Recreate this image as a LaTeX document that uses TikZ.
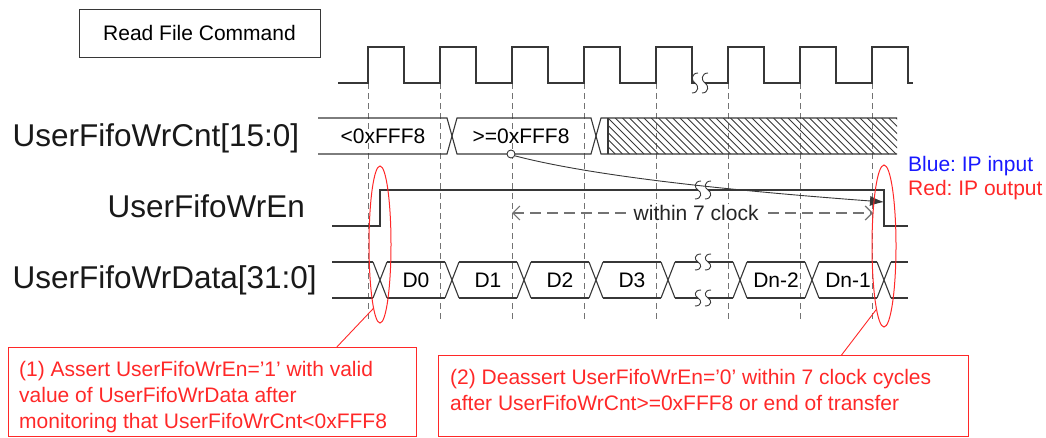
\documentclass[tikz,border=0pt]{standalone}
\usepackage{fontspec}
\setmainfont{Liberation Sans}
\usetikzlibrary{arrows.meta,shapes.geometric,positioning,calc}

\definecolor{ipred}{RGB}{255,40,40}
\definecolor{ipblue}{RGB}{25,25,255}
\definecolor{wire}{RGB}{55,55,55}

\newcommand{\sigfont}{\fontsize{31.5}{36}\selectfont}
\newcommand{\txtfont}{\fontsize{21}{26}\selectfont}

\tikzset{
  sig/.style={draw=wire, line width=1.1pt},
  tick/.style={draw=black!55, line width=0.8pt, dash pattern=on 6pt off 4pt},
  span/.style={draw=black!55, line width=1.2pt, dash pattern=on 11pt off 6pt},
  oval/.style={draw=ipred, ellipse, line width=1pt, inner sep=0pt},
  callout/.style={draw=ipred, line width=0.9pt},
  notebox/.style={draw=ipred, line width=1pt, rectangle, anchor=north west, inner sep=0pt},
  notetext/.style={text=ipred, align=left, inner sep=0pt, anchor=north west},
  siglabel/.style={text=black!90, font=\sigfont, inner sep=0pt},
}

% break mark on a wave: two small s-curves
\newcommand{\wavebreak}[3][9]{%
  \fill[white] (#2-5,#3-2) rectangle (#2+5,#3+2);
  \foreach \c in {#2-5,#2+5}
    \draw[sig, line width=0.9pt] (\c+3,#3-#1) .. controls (\c-4,#3-#1) and (\c-4,#3-2) .. (\c,#3) .. controls (\c+4,#3+2) and (\c+4,#3+#1) .. (\c-3,#3+#1);
}

\begin{document}
\frenchspacing
\begin{tikzpicture}[x=1pt, y=-1pt, font=\txtfont]
  \useasboundingbox (0,0) rectangle (1046,437);

  \node[draw=wire, line width=1pt, minimum width=241pt, minimum height=48pt] (cmd) at (199.5,33) {Read File Command};

  % signal names
  \node[siglabel, anchor=base west] (cntname) at (12.5,146) {UserFifoWrCnt[15:0]};
  \node[siglabel, anchor=base east] (enname) at (305,217) {UserFifoWrEn};
  \node[siglabel, anchor=base west] (dataname) at (12.5,288) {UserFifoWrData[31:0]};

  % clock edges
  \foreach \k in {0,...,7}
    \draw[tick] ({368+72*\k},83) -- ({368+72*\k},319);

  % clock
  \draw[sig] (338,83) \foreach \k in {0,...,7} { -- ({368+72*\k},83) -- ({368+72*\k},47) -- ({404+72*\k},47) -- ({404+72*\k},83) } -- (913,83);
  \wavebreak[10]{700}{83}

  % UserFifoWrCnt
  \begin{scope}
    \clip (608,118) rectangle (897,154);
    \foreach \i in {0,...,45}
      \draw[wire, line width=0.9pt] ({572+7.2*\i},118) -- ({608+7.2*\i},154);
  \end{scope}
  \draw[sig] (318,118) -- (447,118) -- (457,154) -- (591,154) -- (601,118) -- (897,118);
  \draw[sig] (318,154) -- (447,154) -- (457,118) -- (591,118) -- (601,154) -- (897,154);
  \draw[sig] (608,118) -- (608,154);
  \node (cntlo) at (383,136) {<0xFFF8};
  \node (cnthi) at (521,136) {>=0xFFF8};

  % UserFifoWrEn
  \draw[sig] (332,226) -- (380,226) -- (380,190) -- (884,190) -- (884,226) -- (908,226);
  \wavebreak{703}{190}

  % UserFifoWrData
  \draw[sig] (332,262) -- (373,262) (332,298) -- (373,298);
  \foreach \k in {0,...,7}
    \draw[sig] ({373+72*\k},262) -- ({387+72*\k},298) ({373+72*\k},298) -- ({387+72*\k},262);
  \foreach \k in {0,...,6}
    \draw[sig] ({387+72*\k},262) -- ({445+72*\k},262) ({387+72*\k},298) -- ({445+72*\k},298);
  \draw[sig] (891,262) -- (908,262) (891,298) -- (908,298);
  \wavebreak[8]{703}{262}
  \wavebreak[8]{703}{298}
  \foreach \x/\lbl/\nm in {416/D0/d0, 488/D1/d1, 560/D2/d2, 632/D3/d3, 776/Dn-2/dn2, 848/Dn-1/dn1}
    \node (\nm) at (\x,280) {\lbl};

  % trigger
  \node[circle, draw=wire, line width=0.9pt, fill=white, minimum size=8pt, inner sep=0pt] (trig) at (511,154) {};
  \coordinate (enoff) at (884,202);
  \draw[wire, line width=0.9pt, -{Latex[length=14pt,width=10pt]}] (trig.-25) .. controls (600,178) and (750,192) .. (enoff);

  % within 7 clock
  \coordinate (w7a) at (512,213);
  \coordinate (w7b) at (873,213);
  \draw[span, {Straight Barb[length=7pt,width=14pt]}-{Straight Barb[length=7pt,width=14pt]}] (w7a) -- (w7b)
    node[pos=0.51, fill=white, inner xsep=4pt, inner ysep=1pt, text=black!85] (w7) {within 7 clock};

  % legend
  \node[anchor=base west, text=ipblue, inner sep=0pt] (legin) at (908,171) {Blue: IP input};
  \node[anchor=base west, text=ipred, inner sep=0pt] (legout) at (908,195) {Red: IP output};

  % marks and notes
  \node[oval, minimum width=22pt, minimum height=157pt] (ovA) at (380,244.5) {};
  \node[oval, minimum width=24pt, minimum height=162pt] (ovB) at (884,246) {};

  \node[notebox, minimum width=408pt, minimum height=89pt] (note1) at (8,347) {};
  \node[notetext, below right=14pt and 11pt of note1.north west] (note1txt)
    {(1) Assert UserFifoWrEn='1' with valid\\value of UserFifoWrData after\\monitoring that UserFifoWrCnt<0xFFF8};
  \node[notebox, minimum width=530pt, minimum height=81pt] (note2) at (438,355) {};
  \node[notetext, below right=14pt and 12pt of note2.north west] (note2txt)
    {(2) Deassert UserFifoWrEn='0' within 7 clock cycles\\after UserFifoWrCnt>=0xFFF8 or end of transfer};

  \draw[callout] (ovA.264) -- ($(note1.north west)!0.804!(note1.north east)$);
  \draw[callout] (ovB.263) -- ($(note2.north west)!0.76!(note2.north east)$);
\end{tikzpicture}
\end{document}
